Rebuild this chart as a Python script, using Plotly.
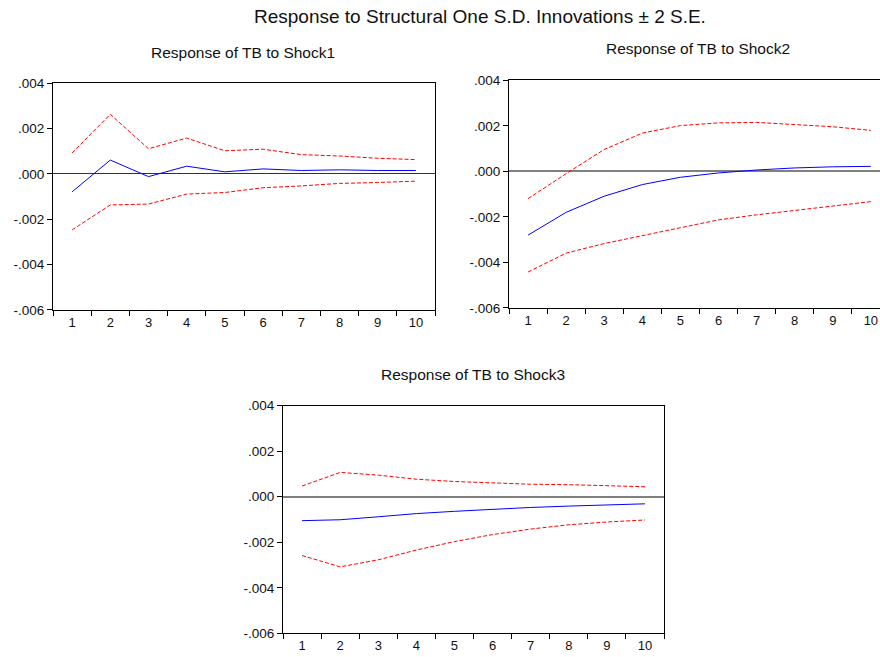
import plotly.graph_objects as go

periods = [1, 2, 3, 4, 5, 6, 7, 8, 9, 10]

shock1_resp = [-0.00079, 0.00061, -0.00012, 0.00034, 0.00009, 0.00022, 0.00015, 0.00018, 0.00015, 0.00015]
shock1_upper = [0.00092, 0.00263, 0.00111, 0.00158, 0.00102, 0.00109, 0.00085, 0.00079, 0.00069, 0.00063]
shock1_lower = [-0.00247, -0.00137, -0.00133, -0.00089, -0.00082, -0.00061, -0.00053, -0.00042, -0.00038, -0.00032]

shock2_resp = [-0.00280, -0.00180, -0.00109, -0.00058, -0.00026, -0.00007, 0.00006, 0.00015, 0.00020, 0.00022]
shock2_upper = [-0.00120, -0.00010, 0.00096, 0.00168, 0.00201, 0.00213, 0.00215, 0.00207, 0.00196, 0.00180]
shock2_lower = [-0.00442, -0.00359, -0.00317, -0.00282, -0.00247, -0.00213, -0.00191, -0.00172, -0.00152, -0.00133]

shock3_resp = [-0.00105, -0.00101, -0.00088, -0.00074, -0.00064, -0.00054, -0.00047, -0.00041, -0.00035, -0.00031]
shock3_upper = [0.00047, 0.00107, 0.00095, 0.00077, 0.00067, 0.00060, 0.00055, 0.00053, 0.00048, 0.00044]
shock3_lower = [-0.00258, -0.00308, -0.00277, -0.00234, -0.00197, -0.00166, -0.00142, -0.00123, -0.00111, -0.00102]

ytick_vals = [0.004, 0.002, 0.0, -0.002, -0.004, -0.006]
ytick_text = [".004", ".002", ".000", "-.002", "-.004", "-.006"]

main_title = "Response to Structural One S.D. Innovations \u00b1 2 S.E."
panel_titles = ["Response of TB to Shock1", "Response of TB to Shock2", "Response of TB to Shock3"]

W, H = 880, 657
FONT = "Liberation Sans, Arial, sans-serif"

# pixel boxes: (x0, x1, ytop, ybottom)
boxes = [(53, 435, 78, 310), (509, 880, 75, 308), (283, 664, 408, 641)]
x_ranges = [[0.5, 10.5], [0.5, 10.24], [0.5, 10.5]]
right_border = [True, False, True]
title_pos = [(243, 46.5), (698, 42.5), (473, 376)]
zero_style = [("#333333", 1), ("#808080", 1.6), ("#808080", 1.6)]

series = [
    (shock1_resp, shock1_upper, shock1_lower),
    (shock2_resp, shock2_upper, shock2_lower),
    (shock3_resp, shock3_upper, shock3_lower),
]

fig = go.Figure()
layout = dict(
    width=W, height=H,
    margin=dict(l=0, r=0, t=0, b=0),
    paper_bgcolor="white", plot_bgcolor="white",
    showlegend=False,
    font=dict(family=FONT, color="#111111", size=13),
)
annotations = []

for i, ((resp, up, lo), (x0, x1, yt, yb)) in enumerate(zip(series, boxes)):
    n = "" if i == 0 else str(i + 1)
    xa, ya = "x" + n, "y" + n
    for vals, color, dash in [(up, "#ff0000", "4px,2px"), (lo, "#ff0000", "4px,2px"), (resp, "#0000ff", "solid")]:
        fig.add_trace(go.Scatter(x=periods, y=vals, mode="lines", xaxis=xa, yaxis=ya,
                                 line=dict(color=color, width=1, dash=dash), hoverinfo="skip"))
    zc, zw = zero_style[i]
    layout["xaxis" + n] = dict(
        domain=[x0 / W, min(x1 / W, 1.0)], anchor=ya, range=x_ranges[i],
        tickvals=periods, ticktext=[str(p) for p in periods], ticks="",
        tickfont=dict(size=13, family=FONT, color="#111111"),
        showgrid=False, zeroline=False,
        showline=True, linecolor="black", linewidth=1, mirror=True,
        minor=dict(tickvals=[p - 0.5 for p in periods] + [10.5], ticks="outside",
                   ticklen=5, tickcolor="black", tickwidth=1, showgrid=False),
        fixedrange=True,
    )
    layout["yaxis" + n] = dict(
        domain=[1 - yb / H, 1 - yt / H], anchor=xa, range=[-0.006, 0.004],
        tickvals=ytick_vals, ticktext=ytick_text, ticks="outside", ticklen=5,
        tickcolor="black", tickwidth=1,
        tickfont=dict(size=13.5, family=FONT, color="#111111"),
        showgrid=False, zeroline=True, zerolinecolor=zc, zerolinewidth=zw,
        showline=True, linecolor="black", linewidth=1, mirror=right_border[i],
        fixedrange=True,
    )
    tx, ty = title_pos[i]
    annotations.append(dict(text=panel_titles[i], x=tx / W, y=1 - ty / H, xref="paper", yref="paper",
                            showarrow=False, xanchor="center", yanchor="middle",
                            font=dict(size=15.5, family=FONT, color="#111111")))

annotations.append(dict(text=main_title, x=480 / W, y=1 - 10 / H, xref="paper", yref="paper",
                        showarrow=False, xanchor="center", yanchor="middle",
                        font=dict(size=19, family=FONT, color="#111111")))

layout["annotations"] = annotations
fig.update_layout(**layout)
fig.write_html("out.html", config={"displayModeBar": False},
               post_script="document.body.style.margin='0px';")
